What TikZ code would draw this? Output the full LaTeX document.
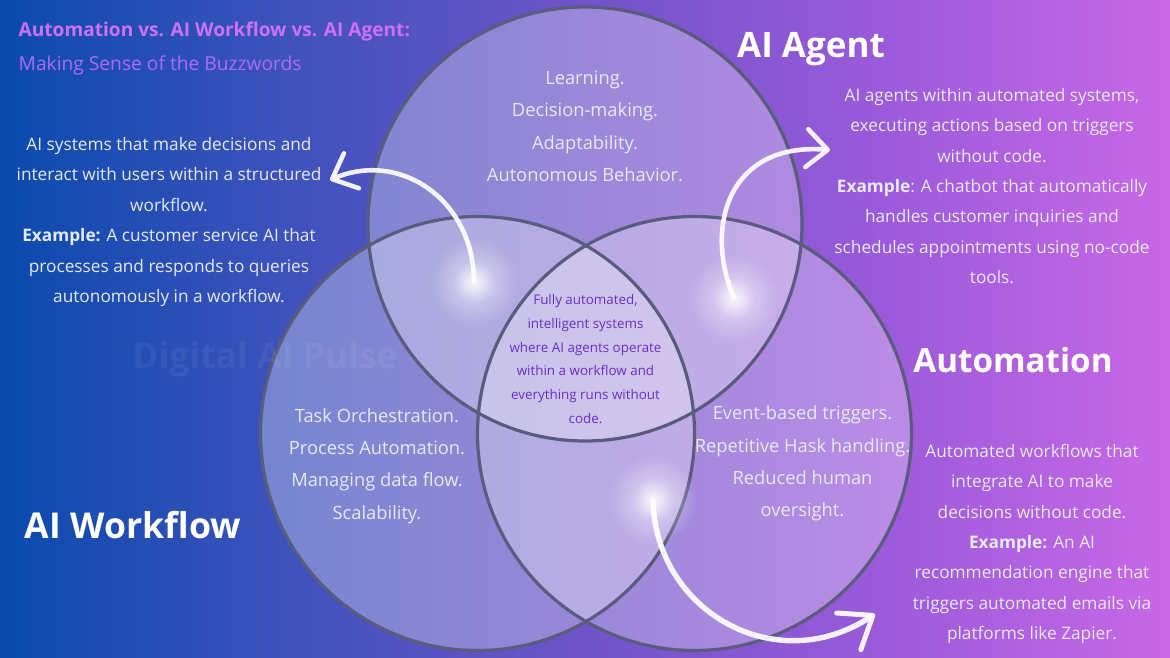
\documentclass[tikz,border=0pt]{standalone}
\usepackage{fontspec}
\setmainfont{Open Sans}
\usetikzlibrary{arrows.meta,fadings}
\definecolor{bg0}{HTML}{0A4AAD}
\definecolor{bg1}{HTML}{3F52BC}
\definecolor{bg2}{HTML}{6F54C8}
\definecolor{bg3}{HTML}{9A5ADA}
\definecolor{bg4}{HTML}{C868E6}
\definecolor{ringc}{HTML}{5A5C7E}
\definecolor{titlec}{HTML}{D070F5}
\definecolor{subc}{HTML}{AD6CF2}
\definecolor{bodyc}{HTML}{E6EAFB}
\definecolor{centerc}{HTML}{6A2FC8}
\pgfdeclarehorizontalshading{bgshade}{100bp}{color(0bp)=(bg0); color(25bp)=(bg0); color(37.5bp)=(bg1); color(50bp)=(bg2); color(62.5bp)=(bg3); color(75bp)=(bg4); color(100bp)=(bg4)}
\pgfdeclareradialshading{glowshade}{\pgfpointorigin}{color(0bp)=(pgftransparent!0); color(4bp)=(pgftransparent!15); color(12bp)=(pgftransparent!65); color(25bp)=(pgftransparent!100); color(50bp)=(pgftransparent!100)}
\pgfdeclarefading{glowfade}{\pgfuseshading{glowshade}}
\tikzset{
  disc/.style={fill=white, fill opacity=.30},
  ring/.style={draw=ringc, line width=3.2pt},
  glow/.style={fill=white, path fading=glowfade, fill opacity=.85},
  flow/.style={draw=white, draw opacity=.92, line width=4.6pt, line cap=round, line join=round,
    -{Straight Barb[length=21pt,width=38pt,line width=4.6pt,round]}},
  bigflow/.style={draw=white, draw opacity=.92, line width=5.4pt, line cap=round, line join=round,
    -{Straight Barb[length=29pt,width=44pt,line width=5pt,round]}},
  body/.style={text=bodyc, align=center, inner sep=0pt, font=\fontsize{17.25}{30.4}\selectfont},
  inner/.style={text=bodyc, align=center, inner sep=0pt, font=\fontsize{18.3}{32.3}\selectfont},
  heading/.style={text=white, inner sep=0pt, font=\fontsize{35}{38}\selectfont\bfseries},
}
\begin{document}
\begin{tikzpicture}[x=1pt,y=-1pt]
\useasboundingbox (0,0) rectangle (1170,658);
\path[shading=bgshade] (0,0) rectangle (1170,658);
% circles
\coordinate (cTop) at (585,224);
\coordinate (cLeft) at (477.5,433.5);
\coordinate (cRight) at (694.5,433.5);
\fill[disc] (cTop) circle[radius=217pt];
\fill[disc] (cLeft) circle[radius=217pt];
\fill[disc] (cRight) circle[radius=217pt];
\draw[ring] (cTop) circle[radius=217pt];
\draw[ring] (cLeft) circle[radius=217pt];
\draw[ring] (cRight) circle[radius=217pt];
% glows
\coordinate (gA) at (474,282);
\coordinate (gB) at (734,298);
\coordinate (gC) at (653,500);
\fill[glow] (gA) circle[radius=44pt];
\fill[glow] (gB) circle[radius=44pt];
\fill[glow] (gC) circle[radius=44pt];
% watermark
\node[text=white, text opacity=.06, inner sep=0pt, font=\fontsize{35.5}{38}\selectfont\bfseries] (mark) at (265,359) {Digital AI Pulse};
% arrows
\coordinate (tipA) at (330,180);
\coordinate (tipB) at (830,150);
\coordinate (tipC) at (875,614);
\draw[flow] (gA) .. controls (474,200) and (400,150) .. (tipA);
\draw[flow] (gB) .. controls (703,225) and (730,142) .. (tipB);
\draw[bigflow] (gC) .. controls (655,610) and (775,680) .. (tipC);
% titles
\node[anchor=west, inner sep=0pt, text=titlec, font=\fontsize{19.1}{22}\selectfont\bfseries] (title) at (18.5,31) {Automation vs. AI Workflow vs. AI Agent:};
\node[anchor=west, inner sep=0pt, text=subc, font=\fontsize{19.2}{22}\selectfont] (subtitle) at (18.5,65) {Making Sense of the Buzzwords};
\node[heading] (hAgent) at (811,49) {AI Agent};
\node[heading, font=\fontsize{33.2}{38}\selectfont\bfseries] (hAuto) at (1013,360) {Automation};
\node[heading, font=\fontsize{35.6}{38}\selectfont\bfseries] (hFlow) at (133,525) {AI Workflow};
% circle text
\node[inner] (tAgent) at (585,126.5) {Learning.\\Decision-making.\\Adaptability.\\Autonomous Behavior.};
\node[inner] (tFlow) at (377,466) {Task Orchestration.\\Process Automation.\\Managing data flow.\\Scalability.};
\node[inner] (tAuto) at (802.5,463.5) {Event-based triggers.\\Repetitive Hask handling.\\Reduced human\\oversight.};
\node[text=centerc, align=center, inner sep=0pt, font=\fontsize{13.4}{23.8}\selectfont] (tCenter) at (585.5,359) {Fully automated,\\intelligent systems\\where AI agents operate\\within a workflow and\\everything runs without\\code.};
% side text
\node[body] (sLeft) at (169,222) {AI systems that make decisions and\\interact with users within a structured\\workflow.\\\textbf{Example:} A customer service AI that\\processes and responds to queries\\autonomously in a workflow.};
\node[body] (sRight) at (992,186) {AI agents within automated systems,\\executing actions based on triggers\\without code.\\\textbf{Example}: A chatbot that automatically\\handles customer inquiries and\\schedules appointments using no-code\\tools.};
\node[body] (sAuto) at (1032,544) {Automated workflows that\\integrate AI to make\\decisions without code.\\\textbf{Example:} An AI\\recommendation engine that\\triggers automated emails via\\platforms like Zapier.};
\end{tikzpicture}
\end{document}
